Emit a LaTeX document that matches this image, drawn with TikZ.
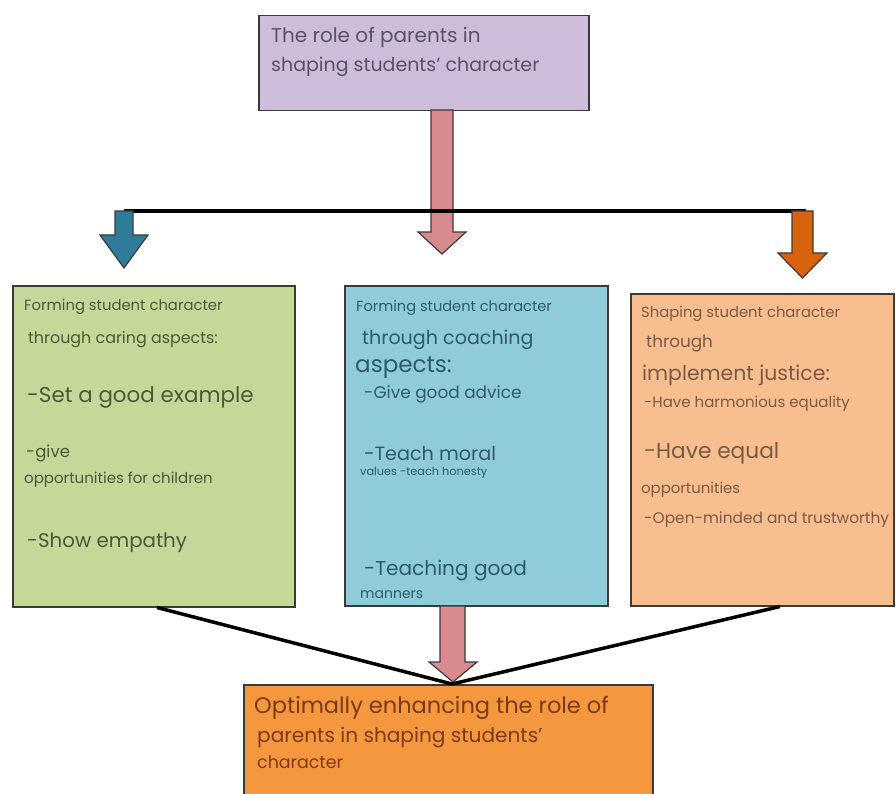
\documentclass[tikz,border=0pt]{standalone}
\usepackage{fontspec}
\setmainfont{Poppins}
\usetikzlibrary{calc}
\definecolor{lav}{HTML}{CDBDDB}
\definecolor{grn}{HTML}{C5D89A}
\definecolor{blu}{HTML}{8FCBDB}
\definecolor{pch}{HTML}{F7BE90}
\definecolor{org}{HTML}{F5973F}
\definecolor{teal}{HTML}{2E7C9A}
\definecolor{rorg}{HTML}{D9620F}
\definecolor{pnk}{HTML}{D88A8E}
\definecolor{edge}{HTML}{3A3A3A}
\definecolor{tlav}{HTML}{5A5262}
\definecolor{tgrn}{HTML}{4A5A38}
\definecolor{tblu}{HTML}{2F5A68}
\definecolor{tpch}{HTML}{7A5A45}
\definecolor{torg}{HTML}{7A3A10}
\newcommand\fsz[1]{\fontsize{#1}{#1}\selectfont}
\tikzset{
  box/.style={draw=edge, line width=1.5pt, anchor=north west, inner sep=0pt},
  txt/.style={anchor=base west, inner sep=0pt},
  conn/.style={draw=black, line width=3.5pt},
  blockarrow/.style={draw=edge, line width=1.2pt, line join=miter},
}
\begin{document}
\begin{tikzpicture}[x=1pt,y=-1pt]
\useasboundingbox (0,0) rectangle (896,794);
% boxes
\node[box, fill=lav, minimum width=330pt, minimum height=95pt] (top) at (258,15) {};
\node[box, fill=grn, minimum width=282pt, minimum height=321pt] (g) at (12,285) {};
\node[box, fill=blu, minimum width=263pt, minimum height=320pt] (b) at (344,285) {};
\node[box, fill=pch, minimum width=263pt, minimum height=312pt] (p) at (630,293) {};
\node[box, fill=org, minimum width=409pt, minimum height=130pt] (o) at (243,684) {};
% block arrows
\draw[blockarrow, fill=pnk] (431,110) -- (453,110) -- (453,232) -- (466,232) -- (442,254) -- (418,232) -- (431,232) -- cycle;
% horizontal bar
\coordinate (hl) at (124,211);
\coordinate (hr) at (806,211);
\draw[conn] (hl) -- (hr);
\draw[blockarrow, fill=teal] (115,211) -- (133,211) -- (133,235) -- (148,235) -- (124,268) -- (100,235) -- (115,235) -- cycle;
\draw[blockarrow, fill=rorg] (792,211) -- (813,211) -- (813,253) -- (827,253) -- (802.5,278) -- (778,253) -- (792,253) -- cycle;
\draw[blockarrow, fill=pnk] (440,606) -- (465,606) -- (465,662) -- (477,662) -- (453,682) -- (429,662) -- (440,662) -- cycle;
% converging connectors
\coordinate (meet) at ($(o.north west)+(209,0)$);
\draw[conn] ($(g.south west)+(145,0)$) -- (meet);
\draw[conn] ($(p.south west)+(150,0)$) -- (meet);
% top text
\node[txt, text=tlav, font=\fsz{20}] (t1) at (271,43) {The role of parents in};
\node[txt, text=tlav, font=\fsz{19}] (t2) at (271,72) {shaping students' character};
% green
\node[txt, text=tgrn, font=\fsz{14.8}] (g1) at (24,310) {Forming student character};
\node[txt, text=tgrn, font=\fsz{15.9}] (g2) at (28,343) {through caring aspects:};
\node[txt, text=tgrn, font=\fsz{21.4}] (g3) at (27,402) {-Set a good example};
\node[txt, text=tgrn, font=\fsz{16.5}] (g4) at (26,457) {-give};
\node[txt, text=tgrn, font=\fsz{15}] (g5) at (24,483) {opportunities for children};
\node[txt, text=tgrn, font=\fsz{19.8}] (g6) at (27,547) {-Show empathy};
% blue
\node[txt, text=tblu, font=\fsz{14.6}] (b1) at (356,311) {Forming student character};
\node[txt, text=tblu, font=\fsz{19.1}] (b2) at (362,344) {through coaching};
\node[txt, text=tblu, font=\fsz{23}] (b3) at (355,372) {aspects:};
\node[txt, text=tblu, font=\fsz{16.9}] (b4) at (364,398) {-Give good advice};
\node[txt, text=tblu, font=\fsz{19.2}] (b5) at (364,460) {-Teach moral};
\node[txt, text=tblu, font=\fsz{11.3}] (b6) at (360,475) {values -teach honesty};
\node[txt, text=tblu, font=\fsz{20.1}] (b7) at (364,575) {-Teaching good};
\node[txt, text=tblu, font=\fsz{14}] (b8) at (360,598) {manners};
% peach
\node[txt, text=tpch, font=\fsz{14.8}] (p1) at (641,317) {Shaping student character};
\node[txt, text=tpch, font=\fsz{16.8}] (p2) at (646,347) {through};
\node[txt, text=tpch, font=\fsz{20.4}] (p3) at (642,380) {implement justice:};
\node[txt, text=tpch, font=\fsz{15}] (p4) at (644,407) {-Have harmonious equality};
\node[txt, text=tpch, font=\fsz{21.7}] (p5) at (644,458) {-Have equal};
\node[txt, text=tpch, font=\fsz{14.9}] (p6) at (641,493) {opportunities};
\node[txt, text=tpch, font=\fsz{15.4}] (p7) at (644,523) {-Open-minded and trustworthy};
% orange
\node[txt, text=torg, font=\fsz{22.5}] (o1) at (254,713) {Optimally enhancing the role of};
\node[txt, text=torg, font=\fsz{20.1}] (o2) at (257,742) {parents in shaping students'};
\node[txt, text=torg, font=\fsz{17.4}] (o3) at (257,768) {character};
\end{tikzpicture}
\end{document}
